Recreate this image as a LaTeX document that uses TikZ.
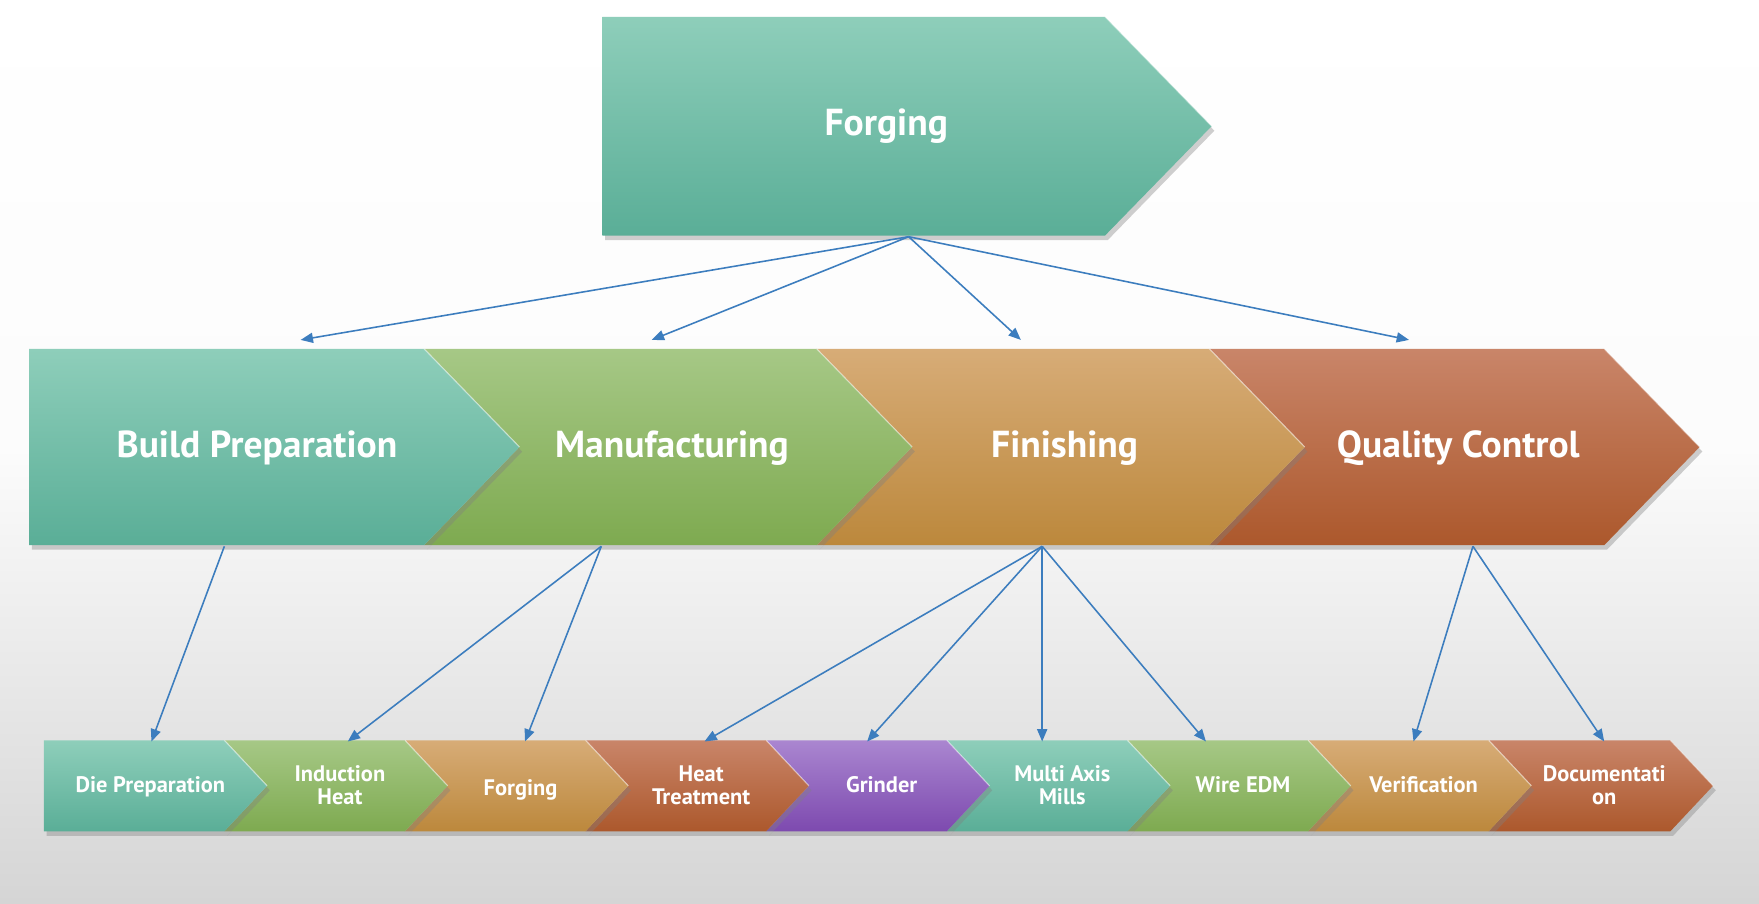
\documentclass[tikz,border=0pt]{standalone}
\usepackage{fontspec}
\setmainfont{PT Sans}
\usetikzlibrary{shadows,arrows.meta}
\definecolor{tealT}{HTML}{8ECEBA}
\definecolor{tealB}{HTML}{5AAE97}
\definecolor{grnT}{HTML}{A6C886}
\definecolor{grnB}{HTML}{7EAA50}
\definecolor{orgT}{HTML}{D7AC77}
\definecolor{orgB}{HTML}{BC883C}
\definecolor{brnT}{HTML}{C98569}
\definecolor{brnB}{HTML}{AC582C}
\definecolor{purT}{HTML}{AA86D0}
\definecolor{purB}{HTML}{7D4AAF}
\definecolor{arrowblue}{HTML}{3C7DBE}
\definecolor{bgB}{HTML}{D5D5D5}
\tikzset{
  shp/.style={drop shadow={opacity=0.38,shadow xshift=2.5pt,shadow yshift=-4pt}},
  fTeal/.style={shp,top color=tealT,bottom color=tealB},
  fGrn/.style={shp,top color=grnT,bottom color=grnB},
  fOrg/.style={shp,top color=orgT,bottom color=orgB},
  fBrn/.style={shp,top color=brnT,bottom color=brnB},
  fPur/.style={shp,top color=purT,bottom color=purB},
  hilite/.style={draw=white,draw opacity=0.4,line width=1pt},
  bigtxt/.style={text=white,font=\bfseries\fontsize{33.5}{36}\selectfont,inner sep=0pt},
  smltxt/.style={text=white,font=\bfseries\fontsize{20}{21}\selectfont,align=center,inner sep=0pt},
  conn/.style={draw=arrowblue,line width=1.4pt,-{Triangle[length=11pt,width=9pt]}}
}
% notched chevron: x0, ytop, body width, height, point depth, style
\newcommand\notchchev[6]{%
  \path[#6] (#1,#2) -- ++(#3,0) -- ++(#5,#4/2) -- ++(-#5,#4/2) -- ++(-#3,0) -- ++(#5,-#4/2) -- cycle;
  \draw[hilite] (#1,#2) -- ++(#5,#4/2);
  \draw[hilite] (#1+#3,#2) -- ++(#5,#4/2);}
% flat-left pentagon: x0, ytop, body width, height, point depth, style
\newcommand\flatchev[6]{%
  \path[#6] (#1,#2) -- ++(#3,0) -- ++(#5,#4/2) -- ++(-#5,#4/2) -- ++(-#3,0) -- cycle;
  \draw[hilite] (#1+#3,#2) -- ++(#5,#4/2);}
\begin{document}
\begin{tikzpicture}[x=1pt,y=-1pt]
\useasboundingbox (0,0) rectangle (1568,805);
\shade[top color=white,bottom color=bgB,middle color=white!92!bgB] (0,0) rectangle (1568,805);

% ---------- top ----------
\flatchev{537}{15}{448}{195}{95}{fTeal}
\node[bigtxt,anchor=base] (forging) at (790,121) {Forging};
\coordinate (forgingB) at (810,211);

% ---------- middle row (drawn right to left) ----------
\notchchev{1078}{311}{352}{175}{85}{fBrn}
\notchchev{728}{311}{350}{175}{85}{fOrg}
\notchchev{378}{311}{350}{175}{85}{fGrn}
\flatchev{26}{311}{352}{175}{85}{fTeal}
\node[bigtxt,anchor=base] (bprep) at (229,408) {Build Preparation};
\node[bigtxt,anchor=base] (manuf) at (599,408) {Manufacturing};
\node[bigtxt,anchor=base] (finish) at (949,408) {Finishing};
\node[bigtxt,anchor=base] (qc) at (1300,408) {Quality Control};
\coordinate (bprepT) at (268,303);
\coordinate (manufT) at (581,303);
\coordinate (finishT) at (910,303);
\coordinate (qcT) at (1256,303);
\coordinate (bprepB) at (200,487);
\coordinate (manufB) at (536,487);
\coordinate (finishB) at (929,487);
\coordinate (qcB) at (1313,487);

% ---------- bottom row (drawn right to left) ----------
\notchchev{1327}{660}{162}{81}{38}{fBrn}
\notchchev{1166}{660}{161}{81}{38}{fOrg}
\notchchev{1005}{660}{161}{81}{38}{fGrn}
\notchchev{844}{660}{161}{81}{38}{fTeal}
\notchchev{683}{660}{161}{81}{38}{fPur}
\notchchev{522}{660}{161}{81}{38}{fBrn}
\notchchev{361}{660}{161}{81}{38}{fOrg}
\notchchev{200}{660}{161}{81}{38}{fGrn}
\flatchev{39}{660}{161}{81}{38}{fTeal}

\node[smltxt,anchor=base] (diep) at (134,706.5) {Die Preparation};
\node[smltxt] (induc) at (303,700) {Induction\\Heat};
\node[smltxt,anchor=base] (forg2) at (464,709) {Forging};
\node[smltxt] (heatt) at (625,700) {Heat\\Treatment};
\node[smltxt,anchor=base] (grind) at (786,706.5) {Grinder};
\node[smltxt] (mills) at (947,700) {Multi Axis\\Mills};
\node[smltxt,anchor=base] (wire) at (1108,706.5) {Wire EDM};
\node[smltxt,anchor=base] (verif) at (1269,706.5) {Verification};
\node[smltxt] (docu) at (1430,700) {Documentati\\on};

\coordinate (diepT) at (135,661);
\coordinate (inducT) at (310,661);
\coordinate (forg2T) at (468,661);
\coordinate (heattT) at (628,661);
\coordinate (grindT) at (773,661);
\coordinate (millsT) at (929,661);
\coordinate (wireT) at (1075,661);
\coordinate (verifT) at (1260,661);
\coordinate (docuT) at (1430,661);

% ---------- connectors ----------
\draw[conn] (forgingB) -- (bprepT);
\draw[conn] (forgingB) -- (manufT);
\draw[conn] (forgingB) -- (finishT);
\draw[conn] (forgingB) -- (qcT);

\draw[conn] (bprepB) -- (diepT);
\draw[conn] (manufB) -- (inducT);
\draw[conn] (manufB) -- (forg2T);
\draw[conn] (finishB) -- (heattT);
\draw[conn] (finishB) -- (grindT);
\draw[conn] (finishB) -- (millsT);
\draw[conn] (finishB) -- (wireT);
\draw[conn] (qcB) -- (verifT);
\draw[conn] (qcB) -- (docuT);
\end{tikzpicture}
\end{document}
